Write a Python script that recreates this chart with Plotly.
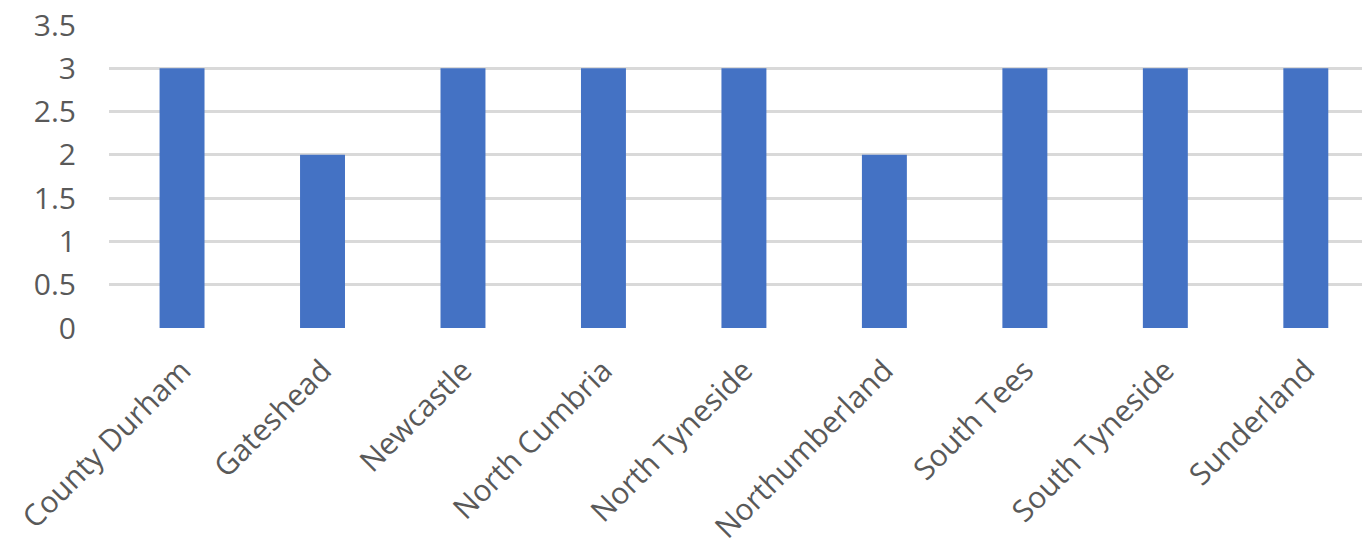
import plotly.graph_objects as go

categories = ["County Durham", "Gateshead", "Newcastle", "North Cumbria", "North Tyneside",
              "Northumberland", "South Tees", "South Tyneside", "Sunderland"]
values = [3, 2, 3, 3, 3, 2, 3, 3, 3]

fig = go.Figure(go.Bar(x=categories, y=values, marker=dict(color="#4472C4", line=dict(width=0))))

font = dict(family="Open Sans, Segoe UI, sans-serif", size=30, color="#595959")
xfont = dict(family="Open Sans, Segoe UI, sans-serif", size=30, color="#595959")
fig.update_layout(
    width=1362, height=545,
    margin=dict(l=109, r=0, t=25, b=217),
    plot_bgcolor="white", paper_bgcolor="white",
    bargap=0.68, showlegend=False, font=font,
)
fig.update_xaxes(range=[-0.52, 8.4], tickangle=-45, showgrid=False, zeroline=False,
                 showline=False, ticks="", ticklabelstandoff=18, tickfont=xfont, automargin=False)
fig.update_yaxes(range=[0, 3.5], dtick=0.5, showgrid=True, gridcolor="#d9d9d9", gridwidth=2.5,
                 zeroline=False, showline=False, ticks="", ticklabelstandoff=32, tickfont=font,
                 automargin=False)

fig.write_html("out.html")
